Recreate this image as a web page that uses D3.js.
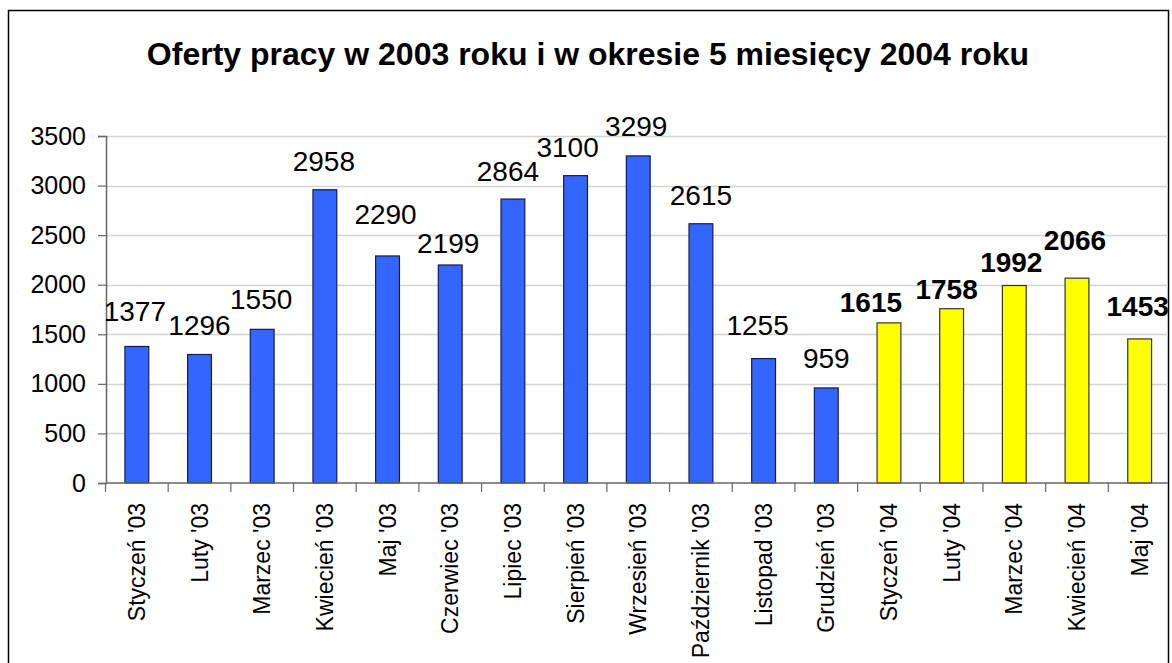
<!DOCTYPE html>
<html>
<head>
<meta charset="utf-8">
<script src="https://cdn.jsdelivr.net/npm/d3@7"></script>
<style>
  body { margin: 0; background: #fff; }
  svg text { font-family: "Liberation Sans", Arial, sans-serif; }
</style>
</head>
<body>
<div id="chart-container"></div>
<script>
// values
const months = ["Styczeń '03", "Luty '03", "Marzec '03", "Kwiecień '03", "Maj '03", "Czerwiec '03",
  "Lipiec '03", "Sierpień '03", "Wrzesień '03", "Październik '03", "Listopad '03", "Grudzień '03",
  "Styczeń '04", "Luty '04", "Marzec '04", "Kwiecień '04", "Maj '04"];
const offers = [1377, 1296, 1550, 2958, 2290, 2199, 2864, 3100, 3299, 2615, 1255, 959,
  1615, 1758, 1992, 2066, 1453];
const years = ["2003", "2003", "2003", "2003", "2003", "2003", "2003", "2003", "2003", "2003", "2003", "2003",
  "2004", "2004", "2004", "2004", "2004"];
const yTicks = [0, 500, 1000, 1500, 2000, 2500, 3000, 3500];
const titleText = "Oferty pracy w 2003 roku i w okresie 5 miesięcy 2004 roku";

// label nudges [dx, dy] - the original labels were dragged around by hand
const labelNudge = [[-2, -5], [0, 0], [-1, 0], [-1, 1], [-2, -12], [-2, 8], [-5, 2], [-8, 1], [-2, 0],
  [0, 1], [-6, -4], [0, 0], [-18, 9], [-5, 10], [-3, 6], [-2, -8], [-2, -3]];

function drawChart() {
    const W = 1172, H = 663;
    const svg = d3.select("#chart-container")
        .append("svg")
        .attr("width", W)
        .attr("height", H);

    // outer frame (bottom edge is off the picture)
    svg.append("rect")
        .attr("x", 8.5).attr("y", 10.5)
        .attr("width", 1160).attr("height", 700)
        .attr("fill", "none")
        .attr("stroke", "#000")
        .attr("stroke-width", 1.5);

    svg.append("text")
        .attr("x", 588)
        .attr("y", 65)
        .attr("text-anchor", "middle")
        .attr("font-size", 32)
        .attr("font-weight", "bold")
        .text(titleText);

    const xScale = d3.scaleBand()
        .domain(months)
        .range([105.5, 1171])
        .paddingInner(0.62)
        .paddingOuter(0.31);

    const xBand = d3.scaleBand().domain(months).range([105.5, 1171]);

    const yScale = d3.scaleLinear()
        .domain([0, 3500])
        .range([483, 136]);

    // gridlines
    svg.append("g")
        .selectAll("line")
        .data(yTicks.filter(d => d > 0))
        .join("line")
        .attr("x1", 106).attr("x2", 1168)
        .attr("y1", d => Math.round(yScale(d)) + 0.5)
        .attr("y2", d => Math.round(yScale(d)) + 0.5)
        .attr("stroke", "#d4d4d4")
        .attr("stroke-width", 1.5);

    // y axis
    const yAxis = svg.append("g")
        .attr("transform", "translate(106,0)")
        .call(d3.axisLeft(yScale).tickValues(yTicks).tickFormat(d3.format("d")).tickSize(8).tickPadding(12));
    yAxis.select(".domain").attr("stroke", "#666").attr("stroke-width", 1.5);
    yAxis.selectAll(".tick line").attr("stroke", "#666").attr("stroke-width", 1.2);
    yAxis.selectAll(".tick text")
        .attr("font-size", 25)
        .attr("fill", "#000")
        .attr("font-family", "Liberation Sans, Arial, sans-serif");

    // bars
    svg.append("g")
        .selectAll("rect")
        .data(offers)
        .join("rect")
        .attr("x", (d, i) => xScale(months[i]))
        .attr("y", d => yScale(d))
        .attr("width", xScale.bandwidth())
        .attr("height", d => yScale(0) - yScale(d))
        .attr("fill", (d, i) => years[i] === "2004" ? "#FFFF00" : "#3366FF")
        .attr("stroke", (d, i) => years[i] === "2004" ? "#333" : "#1a1a4a")
        .attr("stroke-width", 1.2);

    // x axis
    const xAxis = svg.append("g")
        .attr("transform", "translate(0,483)");
    xAxis.append("line")
        .attr("x1", 106).attr("x2", 1168)
        .attr("y1", 0).attr("y2", 0)
        .attr("stroke", "#666").attr("stroke-width", 1.5);
    xAxis.selectAll("line.tk")
        .data(months)
        .join("line")
        .attr("class", "tk")
        .attr("x1", d => xBand(d)).attr("x2", d => xBand(d))
        .attr("y1", 0).attr("y2", 9)
        .attr("stroke", "#666").attr("stroke-width", 1.2);
    xAxis.selectAll("text")
        .data(months)
        .join("text")
        .attr("transform", d => `translate(${xBand(d) + xBand.bandwidth() / 2},20) rotate(-90)`)
        .attr("text-anchor", "end")
        .attr("dy", "0.35em")
        .attr("font-size", 23)
        .text(d => d);

    // value labels
    svg.append("g")
        .selectAll("text")
        .data(offers)
        .join("text")
        .attr("x", (d, i) => xScale(months[i]) + xScale.bandwidth() / 2 + labelNudge[i][0])
        .attr("y", (d, i) => yScale(d) - 20 + labelNudge[i][1])
        .attr("text-anchor", "middle")
        .attr("font-size", 28)
        .attr("font-weight", (d, i) => years[i] === "2004" ? "bold" : "normal")
        .text(d => d);
}

drawChart();
</script>
</body>
</html>
